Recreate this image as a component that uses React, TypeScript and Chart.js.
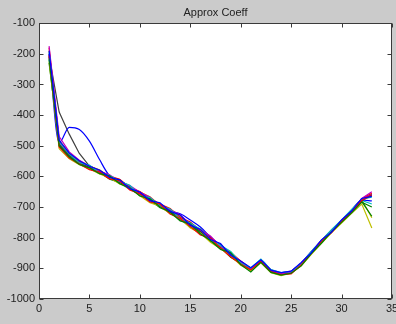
import React, { useEffect, useRef } from "react";
import { Chart, registerables } from "chart.js";

Chart.register(...registerables);

const titleText = "Approx Coeff";
const xs = [1,2,3,4,5,6,7,8,9,10,11,12,13,14,15,16,17,18,19,20,21,22,23,24,25,26,27,28,29,30,31,32,33];
const xTicks = [0, 5, 10, 15, 20, 25, 30, 35];
const yTicks = [-1000, -900, -800, -700, -600, -500, -400, -300, -200, -100];

const seriesA = [-190,-482,-524,-549,-567,-579,-603,-611,-640,-651,-679,-686,-714,-726,-759,-773,-806,-819,-857,-876,-898,-872,-906,-914,-909,-881,-849,-807,-782,-742,-713,-672,-665];
const seriesB = [-215,-500,-536,-561,-572,-591,-598,-624,-638,-664,-673,-700,-717,-745,-755,-787,-809,-838,-849,-888,-912,-880,-913,-922,-916,-892,-852,-818,-781,-750,-719,-684,-700];
const seriesC = [-205,-504,-540,-559,-578,-586,-608,-614,-644,-657,-683,-690,-723,-737,-763,-791,-801,-834,-862,-886,-905,-878,-911,-920,-918,-888,-851,-812,-783,-747,-715,-678,-662];
const seriesD = [-195,-488,-526,-555,-563,-588,-597,-616,-629,-661,-670,-695,-706,-738,-752,-772,-807,-825,-845,-883,-899,-870,-904,-914,-910,-884,-845,-809,-774,-742,-708,-674,-668];
const seriesE = [-175,-470,-520,-547,-566,-583,-595,-617,-630,-652,-667,-696,-709,-725,-756,-774,-794,-829,-847,-879,-902,-874,-906,-918,-912,-886,-848,-810,-778,-745,-710,-672,-650];
const seriesF = [-225,-510,-542,-562,-575,-592,-604,-625,-637,-663,-686,-697,-722,-737,-768,-785,-815,-836,-858,-890,-908,-882,-914,-924,-916,-892,-854,-818,-784,-752,-720,-690,-768];
const seriesG = [-210,-495,-532,-556,-570,-586,-606,-612,-637,-658,-672,-699,-712,-742,-751,-781,-811,-823,-858,-882,-904,-876,-908,-918,-913,-887,-849,-813,-780,-748,-715,-680,-660];
const seriesH = [-200,-490,-440,-447,-485,-545,-598,-615,-636,-655,-676,-693,-712,-722,-742,-765,-798,-825,-852,-880,-903,-874,-906,-916,-911,-885,-847,-811,-777,-745,-711,-677,-680];
const seriesI = [-230,-498,-536,-557,-576,-587,-609,-620,-636,-662,-677,-702,-716,-739,-766,-780,-812,-832,-864,-884,-906,-878,-911,-921,-914,-889,-851,-816,-781,-749,-716,-682,-730];
const seriesJ = [-180,-485,-526,-551,-565,-581,-599,-609,-636,-649,-671,-690,-705,-734,-749,-776,-798,-826,-849,-876,-901,-873,-907,-917,-910,-884,-847,-809,-776,-743,-709,-673,-655];
const seriesK = [-220,-502,-538,-559,-573,-590,-602,-622,-642,-657,-683,-696,-720,-740,-758,-788,-808,-835,-856,-889,-903,-877,-909,-919,-914,-888,-850,-814,-779,-747,-713,-678,-690];
const seriesL = [-200,-492,-529,-553,-572,-582,-604,-614,-631,-659,-672,-693,-708,-735,-761,-775,-805,-821,-855,-878,-900,-874,-905,-915,-909,-883,-845,-809,-775,-743,-710,-675,-658];
const seriesM = [-190,-482,-524,-550,-567,-578,-601,-610,-638,-651,-666,-694,-707,-730,-760,-771,-802,-830,-846,-879,-904,-876,-909,-920,-913,-887,-849,-812,-779,-746,-712,-676,-735];
const seriesN = [-205,-390,-462,-525,-566,-586,-599,-619,-633,-656,-676,-690,-715,-731,-757,-780,-800,-829,-853,-883,-903,-875,-907,-917,-911,-886,-848,-811,-778,-746,-712,-677,-662];

const allSeries = [seriesA, seriesB, seriesC, seriesD, seriesE, seriesF, seriesG, seriesH, seriesI, seriesJ, seriesK, seriesL, seriesM, seriesN];
const lineColors = ["#0000ff", "#008000", "#ff0000", "#00bfbf", "#bf00bf", "#bfbf00", "#404040"];
const smoothSeries = [seriesH];

const FONT = "'Liberation Sans', Arial, sans-serif";

const framePlugin = {
  id: "frame",
  beforeDraw(chart: any) {
    const { ctx, chartArea: a } = chart;
    ctx.save();
    ctx.fillStyle = "#ffffff";
    ctx.fillRect(a.left, a.top, a.right - a.left, a.bottom - a.top);
    ctx.restore();
  },
  afterDraw(chart: any) {
    const { ctx, chartArea: a } = chart;
    const sx = chart.scales.x;
    const sy = chart.scales.y;
    ctx.save();
    ctx.strokeStyle = "#3a3a3a";
    ctx.lineWidth = 1;
    const L = Math.round(a.left) + 0.5;
    const R = Math.round(a.right) - 0.5;
    const T = Math.round(a.top) + 0.5;
    const B = Math.round(a.bottom) - 0.5;
    ctx.strokeRect(L, T, R - L, B - T);
    ctx.beginPath();
    xTicks.forEach((v) => {
      const p = Math.round(sx.getPixelForValue(v)) + 0.5;
      ctx.moveTo(p, B);
      ctx.lineTo(p, B - 4);
      ctx.moveTo(p, T);
      ctx.lineTo(p, T + 4);
    });
    yTicks.forEach((v) => {
      const p = Math.round(sy.getPixelForValue(v)) + 0.5;
      ctx.moveTo(L, p);
      ctx.lineTo(L + 4, p);
      ctx.moveTo(R, p);
      ctx.lineTo(R - 4, p);
    });
    ctx.stroke();
    ctx.restore();
  },
};

export default function App() {
  const ref = useRef<HTMLCanvasElement | null>(null);
  useEffect(() => {
    document.body.style.margin = "0";
    if (!ref.current) return;
    const chart = new Chart(ref.current, {
      type: "line",
      data: {
        datasets: allSeries.map((s, i) => ({
          data: s.map((v, j) => ({ x: xs[j], y: v })),
          borderColor: lineColors[i % lineColors.length],
          borderWidth: 1.2,
          pointRadius: 0,
          tension: 0,
          cubicInterpolationMode: smoothSeries.includes(s) ? "monotone" : "default",
          fill: false,
        })),
      },
      options: {
        animation: false,
        responsive: false,
        devicePixelRatio: 1,
        layout: { padding: { left: 0, right: 4, top: 0, bottom: 0 } },
        plugins: {
          legend: { display: false },
          tooltip: { enabled: false },
          title: {
            display: true,
            text: titleText,
            fullSize: false,
            color: "#222222",
            font: { family: FONT, size: 11, weight: "normal" },
            padding: { top: 6, bottom: 4 },
          },
        },
        scales: {
          x: {
            type: "linear",
            min: 0,
            max: 35,
            afterBuildTicks: (s: any) => {
              s.ticks = xTicks.map((v) => ({ value: v }));
            },
            ticks: {
              color: "#222222",
              font: { family: FONT, size: 11 },
              padding: 3,
              maxRotation: 0,
              autoSkip: false,
              callback: (v: any) => String(v),
            },
            grid: { display: false, drawTicks: false },
            border: { display: false },
            afterFit: (s: any) => {
              s.height = 25;
              s.paddingLeft = 0;
              s.paddingRight = 0;
            },
          },
          y: {
            type: "linear",
            min: -1000,
            max: -100,
            afterBuildTicks: (s: any) => {
              s.ticks = yTicks.map((v) => ({ value: v }));
            },
            ticks: {
              color: "#222222",
              font: { family: FONT, size: 11 },
              padding: 4,
              autoSkip: false,
              callback: (v: any) => String(v),
            },
            grid: { display: false, drawTicks: false },
            border: { display: false },
            afterFit: (s: any) => {
              s.width = 39;
              s.paddingTop = 0;
              s.paddingBottom = 0;
            },
          },
        },
      },
      plugins: [framePlugin],
    } as any);
    return () => chart.destroy();
  }, []);
  return (
    <div style={{ position: "fixed", left: 0, top: 0, width: 396, height: 324, background: "#cbcbcb" }}>
      <canvas ref={ref} width={396} height={324} style={{ display: "block", width: 396, height: 324 }} />
    </div>
  );
}
